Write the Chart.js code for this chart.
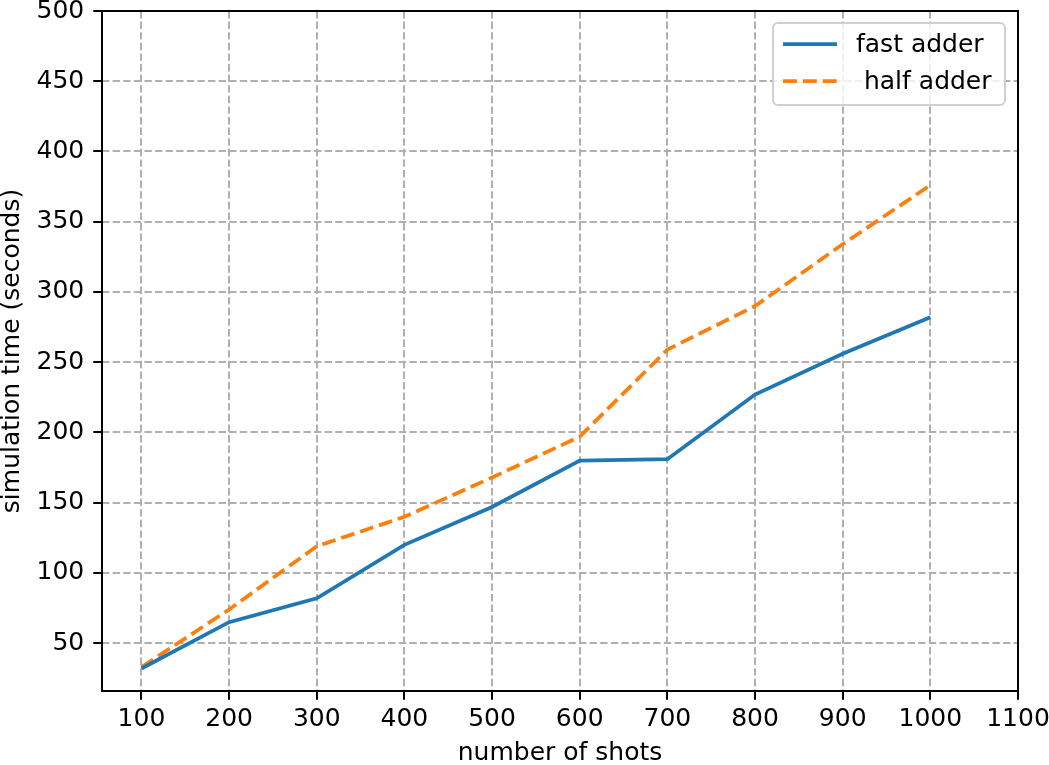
<!DOCTYPE html>
<html>
<head>
<meta charset="utf-8">
<script src="https://cdn.jsdelivr.net/npm/chart.js@4.4.1/dist/chart.umd.min.js"></script>
<style>
  html, body { margin: 0; padding: 0; background: #ffffff; }
  #wrap { width: 1049px; height: 765px; }
</style>
</head>
<body>
<div id="wrap"><canvas id="chart" width="1049" height="765"></canvas></div>
<script>
/* --------------- Data --------------------- */
const shots = [100, 200, 300, 400, 500, 600, 700, 800, 900, 1000];
const fastAdder = [32, 65, 82, 120, 147, 180, 181, 227, 256, 282];
const halfAdder = [33, 74, 119, 140, 168, 197, 259, 290, 334, 376];

const xTicks = [100, 200, 300, 400, 500, 600, 700, 800, 900, 1000, 1100];
const yTicks = [50, 100, 150, 200, 250, 300, 350, 400, 450, 500];

const FONT = "'DejaVu Sans', sans-serif";
const FSIZE = 25;

const toPoints = (ys) => shots.map((x, i) => ({ x: x, y: ys[i] }));

/* --------------- Frame around the plot area --------------------- */
const frame = {
    id: "frame",
    afterDatasetsDraw(chart) {
        const a = chart.chartArea;
        const ctx = chart.ctx;
        ctx.save();
        ctx.strokeStyle = "#000000";
        ctx.lineWidth = 2;
        ctx.setLineDash([]);
        ctx.strokeRect(a.left, a.top, a.right - a.left, a.bottom - a.top);
        ctx.restore();
    }
};

/* --------------- Legend box in the upper right --------------------- */
const boxLegend = {
    id: "boxLegend",
    afterDraw(chart) {
        const ctx = chart.ctx;
        const x0 = 773, y0 = 23, w = 232, h = 82;
        ctx.save();
        ctx.beginPath();
        ctx.roundRect(x0, y0, w, h, 5);
        ctx.fillStyle = "rgba(255,255,255,0.8)";
        ctx.fill();
        ctx.strokeStyle = "#d0d0d0";
        ctx.lineWidth = 2;
        ctx.stroke();
        ctx.font = FSIZE + "px " + FONT;
        ctx.textBaseline = "middle";
        chart.data.datasets.forEach((ds, i) => {
            const y = 44 + i * 37;
            ctx.beginPath();
            ctx.setLineDash(ds.borderDash || []);
            ctx.lineCap = "butt";
            ctx.strokeStyle = ds.borderColor;
            ctx.lineWidth = ds.borderWidth;
            ctx.moveTo(783, y);
            ctx.lineTo(837, y);
            ctx.stroke();
            ctx.setLineDash([]);
            ctx.fillStyle = "#000000";
            ctx.fillText(ds.label, 856, y + 1);
        });
        ctx.restore();
    }
};

// keep the plot area where the reference has it
const noOverflow = (scale) => {
    scale.paddingTop = 0;
    scale.paddingBottom = 0;
    scale.paddingLeft = 0;
    scale.paddingRight = 0;
};

/* --------------- Chart --------------------- */
const chart = new Chart(document.getElementById("chart"), {
    type: "line",
    plugins: [frame, boxLegend],
    data: {
        datasets: [
            {
                label: "fast adder",
                data: toPoints(fastAdder),
                borderColor: "#1f77b4",
                borderWidth: 3.75,
                pointRadius: 0,
                tension: 0,
                fill: false
            },
            {
                label: " half adder",
                data: toPoints(halfAdder),
                borderColor: "#ff7f0e",
                borderWidth: 3.75,
                borderDash: [13.9, 6],
                pointRadius: 0,
                tension: 0,
                fill: false
            }
        ]
    },
    options: {
        responsive: false,
        animation: false,
        layout: { padding: { top: 11, right: 31, left: 0, bottom: 0 } },
        plugins: {
            legend: { display: false },
            tooltip: { enabled: false }
        },
        scales: {
            x: {
                type: "linear",
                min: 55,
                max: 1100,
                afterBuildTicks: (scale) => { scale.ticks = xTicks.map(v => ({ value: v })); },
                afterFit: (scale) => { scale.height = 74; noOverflow(scale); },
                ticks: {
                    color: "#000000",
                    font: { family: FONT, size: FSIZE },
                    padding: 5,
                    maxRotation: 0,
                    autoSkip: false,
                    callback: (v) => String(v)
                },
                grid: {
                    color: "#b0b0b0",
                    lineWidth: 2,
                    drawTicks: true,
                    tickLength: 8.75,
                    tickColor: "#000000",
                    tickWidth: 2,
                    tickBorderDash: []
                },
                border: { display: false, dash: [7.4, 3.2] },
                title: {
                    display: true,
                    text: "number of shots",
                    color: "#000000",
                    font: { family: FONT, size: FSIZE },
                    padding: { top: 0, bottom: -3 }
                }
            },
            y: {
                type: "linear",
                min: 16,
                max: 500,
                afterBuildTicks: (scale) => { scale.ticks = yTicks.map(v => ({ value: v })); },
                afterFit: (scale) => { scale.width = 102; noOverflow(scale); },
                ticks: {
                    color: "#000000",
                    font: { family: FONT, size: FSIZE },
                    padding: 9,
                    callback: (v) => String(v)
                },
                grid: {
                    color: "#b0b0b0",
                    lineWidth: 2,
                    drawTicks: true,
                    tickLength: 8.75,
                    tickColor: "#000000",
                    tickWidth: 2,
                    tickBorderDash: []
                },
                border: { display: false, dash: [7.4, 3.2] },
                title: {
                    display: true,
                    text: "simulation time (seconds)",
                    color: "#000000",
                    font: { family: FONT, size: FSIZE },
                    padding: { top: -3, bottom: 0 }
                }
            }
        }
    }
});
</script>
</body>
</html>
